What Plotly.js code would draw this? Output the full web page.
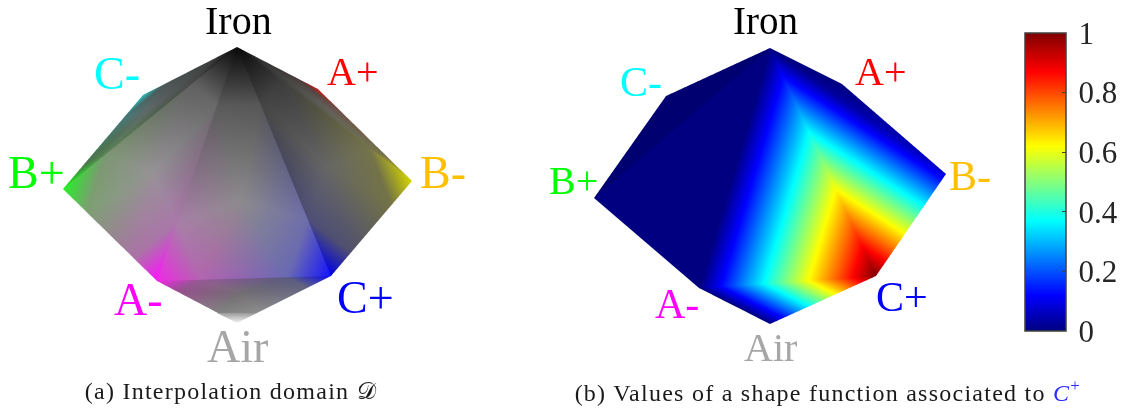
<!DOCTYPE html>
<html>
<head>
<meta charset="utf-8">
<script src="https://cdn.plot.ly/plotly-3.0.1.min.js"></script>
<style>
html,body{margin:0;padding:0;background:#fff}
.annotation[data-index="16"] text,.annotation[data-index="17"] text{letter-spacing:1.25px}
</style>
</head>
<body>
<div id="chart" style="width:1123px;height:412px"></div>
<script>
var pageW = 1123, pageH = 412;

// corners of the two bodies
var cornerNames = ['Iron', 'A+', 'B-', 'C+', 'Air', 'A-', 'B+', 'C-'];
var leftX = [237, 318, 412, 331, 237, 157, 63, 143];
var leftY = [47, 89, 181, 276, 323, 281, 189, 95];
var rightX = [770, 842, 946, 876, 770, 699, 594, 666];
var rightY = [48, 84, 174, 276, 324, 288, 198, 96];

// shape function value at each corner
var shapeValues = [0, 0, 0.08, 1, 0, 0, 0, 0];

// faces seen from the front, as corner indices
var faces = [[0, 5, 3], [0, 6, 5], [0, 7, 6], [0, 3, 2], [0, 2, 1], [5, 4, 3]];

// left body: colours around each face (corner, 1/4, 3/4, corner, ...) and the last one is the centre
var shades = [
  ['#0a0a0a', '#5a5a5a', '#a87fa8', '#f028e6', '#b464af', '#6969b4', '#1414ff', '#6e6eaa', '#565656', '#8c8a8c'],
  ['#0a0a0a', '#5f5f5f', '#7d9673', '#28f028', '#7da073', '#aa73a5', '#fa14fa', '#aa78aa', '#696969', '#969296'],
  ['#0a0a0a', '#3c3c3c', '#4b5555', '#28bebe', '#467878', '#467846', '#1eeb1e', '#5a8255', '#464646', '#5f6969'],
  ['#0a0a0a', '#444444', '#4e4e78', '#0000e6', '#50506e', '#737346', '#d7d700', '#73734b', '#3c3c3c', '#666666'],
  ['#0a0a0a', '#3c3c3c', '#73734b', '#d7d700', '#78734b', '#6e5048', '#dc1414', '#483c3c', '#303030', '#5f5f5a'],
  ['#f028e6', '#96508c', '#828282', '#9a9a9a', '#8c8c8c', '#646482', '#0a0af0', '#5a5a82', '#965a96', '#736e73']
];

// small pale tip at the Air corner
var tipX = [217, 237, 257];
var tipY = [313, 323, 313];
var tipColors = ['#9a9a9a', '#f5f5f5', '#9a9a9a'];

var jetScale = [
  [0, 'rgb(0,0,128)'], [0.12, 'rgb(0,0,255)'], [0.37, 'rgb(0,255,255)'],
  [0.62, 'rgb(255,255,0)'], [0.87, 'rgb(255,0,0)'], [1, 'rgb(128,0,0)']
];
var barTicks = [0, 0.2, 0.4, 0.6, 0.8, 1];

// text labels
var labelText = ['Iron', 'C-', 'A+', 'B+', 'B-', 'A-', 'C+', 'Air'];
var labelColors = ['#000000', '#00ffff', '#ff0000', '#00ff00', '#ffc000', '#ff00ff', '#0000ff', '#a6a6a6'];
var labelLeftX = [238, 117, 352, 36, 443, 138, 365, 237];
var labelLeftY = [21, 73, 71, 172, 172, 299, 297, 346];
var labelLeftSize = [40, 46, 40, 46, 46, 46, 46, 46];
var labelRightX = [765, 641, 880, 573, 970, 677, 902, 771];
var labelRightY = [21, 82, 71, 180, 176, 304, 297, 347];
var labelRightSize = [39, 42, 40, 40, 42, 42, 42, 40];

function plotY(y) { return pageH - y; }

var mx = [], my = [], mz = [], mc = [], mi = [], mj = [], mk = [];
function addPoint(x, y, z, c) {
  mx.push(x); my.push(plotY(y)); mz.push(z); mc.push(c);
  return mx.length - 1;
}
function addTriangle(a, b, c) {
  mi.push(a); mj.push(b); mk.push(c);
}
faces.forEach(function (f, n) {
  var ring = [], px = [], py = [];
  for (var e = 0; e < 3; e++) {
    var a = f[e], b = f[(e + 1) % 3];
    [0, 0.25, 0.75].forEach(function (t) {
      px.push(leftX[a] + (leftX[b] - leftX[a]) * t);
      py.push(leftY[a] + (leftY[b] - leftY[a]) * t);
    });
  }
  for (var p = 0; p < 9; p++) ring.push(addPoint(px[p], py[p], 0, shades[n][p]));
  var cx = (leftX[f[0]] + leftX[f[1]] + leftX[f[2]]) / 3;
  var cy = (leftY[f[0]] + leftY[f[1]] + leftY[f[2]]) / 3;
  var c = addPoint(cx, cy, 0, shades[n][9]);
  // a cap at each corner, then a fan over the hexagon that is left
  addTriangle(ring[0], ring[1], ring[8]);
  addTriangle(ring[3], ring[2], ring[4]);
  addTriangle(ring[6], ring[5], ring[7]);
  var hex = [1, 2, 4, 5, 7, 8];
  hex.forEach(function (h, q) {
    addTriangle(c, ring[h], ring[hex[(q + 1) % 6]]);
  });
});
addTriangle(
  addPoint(tipX[0], tipY[0], 0.5, tipColors[0]),
  addPoint(tipX[1], tipY[1], 0.5, tipColors[1]),
  addPoint(tipX[2], tipY[2], 0.5, tipColors[2])
);

var flat = {ambient: 1, diffuse: 0, specular: 0, roughness: 1, fresnel: 0};

var traces = [];
traces.push({
  type: 'mesh3d', x: mx, y: my, z: mz, i: mi, j: mj, k: mk,
  vertexcolor: mc, lighting: flat, hoverinfo: 'skip', showscale: false
});
traces.push({
  type: 'mesh3d',
  x: rightX, y: rightY.map(plotY), z: rightX.map(function () { return 0; }),
  i: faces.map(function (f) { return f[0]; }),
  j: faces.map(function (f) { return f[1]; }),
  k: faces.map(function (f) { return f[2]; }),
  intensity: shapeValues, intensitymode: 'vertex',
  colorscale: jetScale, cmin: 0, cmax: 1,
  lighting: flat, hoverinfo: 'skip',
  colorbar: {
    x: 1025 / pageW, xanchor: 'left', xpad: 0,
    y: 1 - 33 / pageH, yanchor: 'top', ypad: 0,
    lenmode: 'pixels', len: 298, thicknessmode: 'pixels', thickness: 41,
    outlinecolor: '#404040', outlinewidth: 1.5,
    tickvals: barTicks, ticks: 'inside', ticklen: 4, tickcolor: '#404040',
    tickfont: {family: 'Liberation Serif', size: 31, color: '#262626'}
  }
});
// the strip next to C- is a touch darker
traces.push({
  type: 'mesh3d',
  x: [rightX[0], rightX[7], rightX[6]], y: [rightY[0], rightY[7], rightY[6]].map(plotY), z: [0.5, 0.5, 0.5],
  i: [0], j: [1], k: [2],
  vertexcolor: ['#000070', '#000070', '#000070'], lighting: flat, hoverinfo: 'skip', showscale: false
});

var annotations = [];
function addLabels(xs, ys, sizes) {
  labelText.forEach(function (t, n) {
    annotations.push({
      text: t, xref: 'paper', yref: 'paper', x: xs[n] / pageW, y: 1 - ys[n] / pageH,
      xanchor: 'center', yanchor: 'middle', showarrow: false,
      font: {family: 'Liberation Serif', size: sizes[n], color: labelColors[n]}
    });
  });
}
addLabels(labelLeftX, labelLeftY, labelLeftSize);
addLabels(labelRightX, labelRightY, labelRightSize);

annotations.push({
  text: '(a) Interpolation domain 𝒟', xref: 'paper', yref: 'paper',
  x: 231 / pageW, y: 1 - 391 / pageH, xanchor: 'center', yanchor: 'middle', showarrow: false,
  font: {family: 'Liberation Serif', size: 24, color: '#1a1a1a'}
});
annotations.push({
  text: '(b) Values of a shape function associated to <span style="color:#2a2aff"><i>C</i><sup>+</sup></span>',
  xref: 'paper', yref: 'paper',
  x: 828 / pageW, y: 1 - 391 / pageH, xanchor: 'center', yanchor: 'middle', showarrow: false,
  font: {family: 'Liberation Serif', size: 24, color: '#1a1a1a'}
});

var hidden = {visible: false, showspikes: false, showgrid: false, zeroline: false, showticklabels: false};
var layout = {
  width: pageW, height: pageH,
  margin: {l: 0, r: 0, t: 0, b: 0},
  paper_bgcolor: '#ffffff',
  showlegend: false,
  annotations: annotations,
  scene: {
    domain: {x: [0, 1], y: [0, 1]},
    xaxis: Object.assign({range: [0, pageW]}, hidden),
    yaxis: Object.assign({range: [0, pageH]}, hidden),
    zaxis: Object.assign({range: [-1, 1]}, hidden),
    aspectmode: 'manual',
    // twice the page ratio, so one data unit comes out as one page pixel
    aspectratio: {x: 2 * pageW / pageH, y: 2, z: 0.1},
    bgcolor: '#ffffff',
    camera: {
      projection: {type: 'orthographic'},
      eye: {x: 0, y: 0, z: 2},
      center: {x: 0, y: 0, z: 0},
      up: {x: 0, y: 1, z: 0}
    }
  }
};

Plotly.newPlot('chart', traces, layout, {displayModeBar: false}).then(function (gd) {
  // tick labels sit a little further from the bar in the original
  gd.querySelectorAll('.colorbar text').forEach(function (t) {
    t.setAttribute('x', parseFloat(t.getAttribute('x') || 0) + 5);
  });
});
</script>
</body>
</html>
